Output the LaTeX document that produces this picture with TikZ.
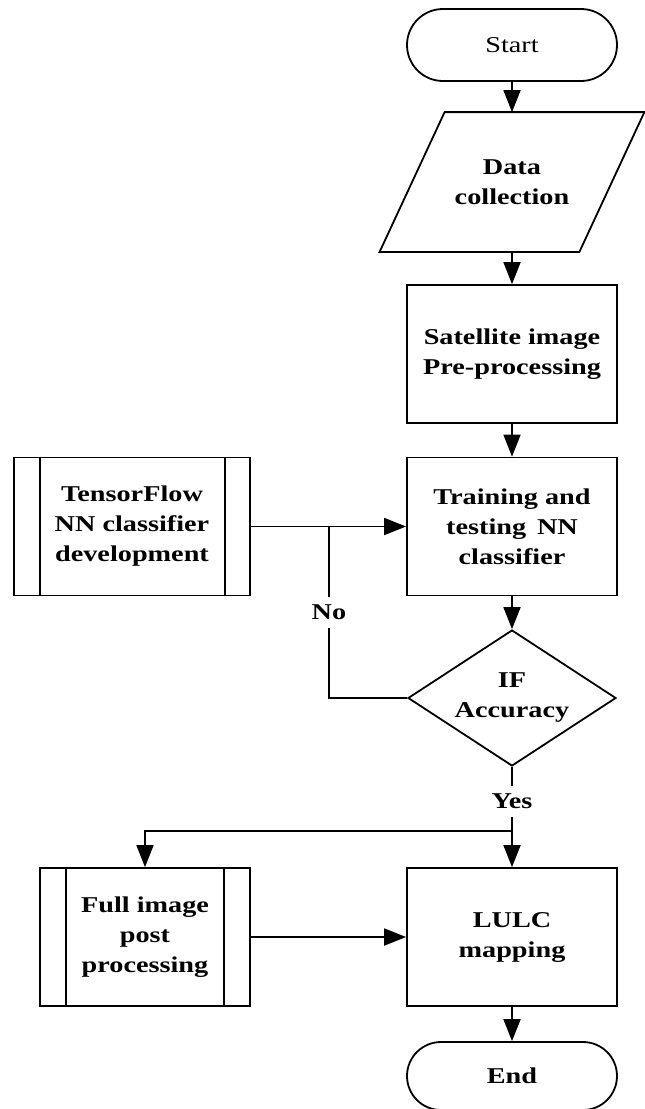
\documentclass[tikz,border=0pt]{standalone}
\usepackage{fontspec}
\setmainfont{Liberation Serif}[FakeStretch=1.25]
\usetikzlibrary{shapes.geometric,shapes.misc,arrows.meta,calc}
\begin{document}
\begin{tikzpicture}[x=1pt,y=-1pt,line width=1.8pt,
  every node/.style={font=\fontsize{22.6}{30}\selectfont\bfseries, align=center},
  arr/.style={-{Triangle[length=22pt,width=17pt]}},
  boxnode/.style={draw, rectangle, minimum width=210pt, minimum height=138pt, inner sep=0pt},
  term/.style={draw, rounded rectangle, minimum width=210pt, minimum height=72pt, inner sep=0pt},
  lbl/.style={fill=white, inner xsep=2pt, inner ysep=8pt}
]
\fill[white] (0,0) rectangle (645,1109);
\useasboundingbox (0,0) rectangle (645,1109);

% nodes
\node[term, font=\fontsize{22.6}{30}\selectfont] (start) at (512,45) {Start};
\node[minimum width=198pt, minimum height=138pt, inner sep=0pt] (data) at (512,182) {Data\\collection};
\draw ($(data.north west)+(32.5,0)$) -- ($(data.north east)+(32.5,0)$) -- ($(data.south east)+(-32.5,0)$) -- ($(data.south west)+(-32.5,0)$) -- cycle;
\node[boxnode] (sat) at (512,354) {Satellite image\\Pre-processing};
\node[boxnode] (train) at (512,526.5) {Training and\\testing\, NN\\classifier};
\node[boxnode, minimum width=236pt] (tf) at (132,526.5) {TensorFlow\\NN classifier\\development};
\draw ([xshift=27pt]tf.north west) -- ([xshift=27pt]tf.south west);
\draw ([xshift=-26pt]tf.north east) -- ([xshift=-26pt]tf.south east);
\node[draw, diamond, aspect=1.53, minimum width=208pt, minimum height=136pt, inner sep=0pt] (dec) at (512,698) {IF\\Accuracy};
\node[boxnode] (full) at (145,937) {Full image\\post\\processing};
\draw ([xshift=27pt]full.north west) -- ([xshift=27pt]full.south west);
\draw ([xshift=-27pt]full.north east) -- ([xshift=-27pt]full.south east);
\node[boxnode] (lulc) at (512,937) {LULC\\mapping};
\node[term, minimum height=68pt] (end) at (512,1076) {End};

\coordinate (j1) at (329,526.5);
\coordinate (j2) at (512,831);

% connectors
\draw[arr] (start) -- (data);
\draw[arr] (data) -- (sat);
\draw[arr] (sat) -- (train);
\draw[arr] (train) -- (dec);
\draw[arr] (tf) -- (train);
\draw (dec.west) -| (j1);
\node[lbl] (no) at (329,612.5) {No};
\draw[arr] (dec) -- (lulc);
\node[lbl] (yes) at (512,801.5) {Yes};
\draw[arr] (j2) -| (full.north);
\draw[arr] (full) -- (lulc);
\draw[arr] (lulc) -- (end);
\end{tikzpicture}
\end{document}
